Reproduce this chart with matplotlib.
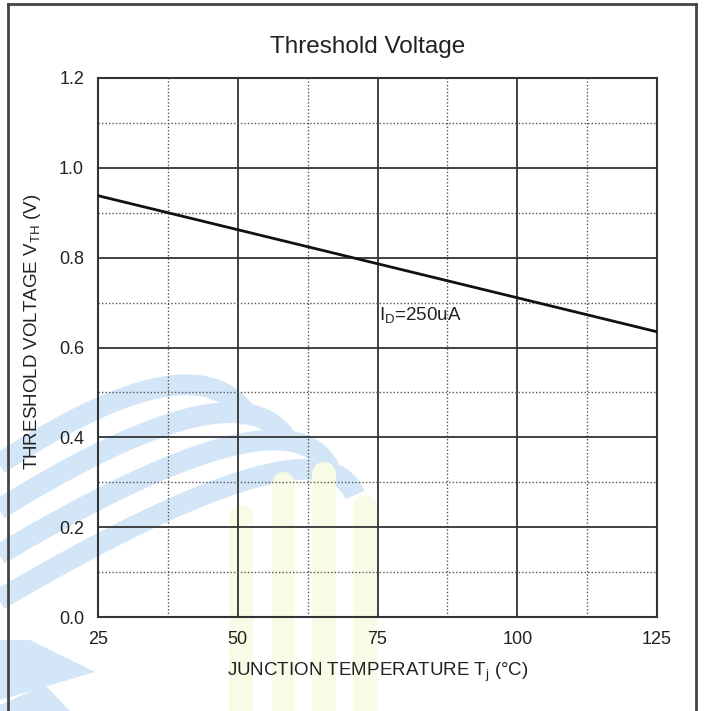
import numpy as np
import matplotlib
matplotlib.use("Agg")
import matplotlib.pyplot as plt
from matplotlib.lines import Line2D
from matplotlib.patches import Polygon

plt.rcParams['font.family'] = ['Liberation Sans', 'DejaVu Sans']
plt.rcParams['mathtext.fontset'] = 'custom'
plt.rcParams['mathtext.rm'] = 'Liberation Sans'
plt.rcParams['mathtext.it'] = 'Liberation Sans'

# data
temp_c = [25, 125]
vth_v = [0.938, 0.635]
x_ticks = [25, 50, 75, 100, 125]
y_ticks = [0.0, 0.2, 0.4, 0.6, 0.8, 1.0, 1.2]

W, H = 704, 711
fig = plt.figure(figsize=(W / 100, H / 100), dpi=100)


def px(x, y):
    # pixel coords (top-left origin) -> figure fraction
    return x / W, 1 - y / H


# faint watermark behind the chart
def band(x0, y0, cx, cy, x1, y1, lw):
    t = np.linspace(0, 1, 60)
    xs = (1 - t) ** 2 * x0 + 2 * (1 - t) * t * cx + t ** 2 * x1
    ys = (1 - t) ** 2 * y0 + 2 * (1 - t) * t * cy + t ** 2 * y1
    fx, fy = zip(*[px(a, b) for a, b in zip(xs, ys)])
    fig.add_artist(Line2D(fx, fy, color='#d3e6f8', lw=lw, solid_capstyle='butt', zorder=0))


band(-10, 470, 200, 330, 250, 420, 15)
band(-10, 515, 245, 355, 290, 445, 15)
band(-10, 560, 290, 380, 330, 470, 15)
band(-10, 605, 320, 410, 355, 495, 15)
for x0, x1, top in [(229, 253, 505), (272, 295, 472), (312, 336, 462), (353, 377, 495)]:
    xs = np.concatenate([[x0], x0 + (x1 - x0) * (0.5 - 0.5 * np.cos(np.linspace(0, np.pi, 20))), [x1]])
    ys = np.concatenate([[711], top + 12 * (1 - np.sin(np.linspace(0, np.pi, 20))), [711]])
    fig.add_artist(Polygon([px(a, b) for a, b in zip(xs, ys)], closed=True,
                           facecolor='#f8fce6', edgecolor='none', zorder=0))
for pts in [[(0, 640), (30, 640), (95, 672), (0, 700)], [(0, 705), (45, 685), (70, 711), (0, 711)]]:
    fig.add_artist(Polygon([px(a, b) for a, b in pts], closed=True,
                           facecolor='#d3e6f8', edgecolor='none', zorder=0))

# outer frame
for xs, ys in [([8, 8], [4, 711]), ([8, 696], [4, 4]), ([696, 696], [4, 711])]:
    fx, fy = zip(*[px(a, b) for a, b in zip(xs, ys)])
    fig.add_artist(Line2D(fx, fy, color='#444444', lw=2, zorder=1))

ax = fig.add_axes([98 / W, 1 - 617 / H, (657 - 98) / W, (617 - 78) / H])
ax.set_facecolor('none')
ax.set_xlim(25, 125)
ax.set_ylim(0, 1.2)
ax.set_xticks(x_ticks)
ax.set_yticks(y_ticks)
ax.set_xticks(np.arange(37.5, 125, 25), minor=True)
ax.set_yticks(np.arange(0.1, 1.2, 0.2), minor=True)
ax.set_yticklabels([f"{v:.1f}" for v in y_ticks])
ax.tick_params(which='both', length=0, labelsize=13, colors='#222222')
ax.tick_params(axis='x', pad=10)
ax.tick_params(axis='y', pad=10)
ax.grid(which='major', color='#333333', lw=1.3)
ax.grid(which='minor', color='#555555', lw=1.0, ls=(0, (1, 1.5)))
for s in ax.spines.values():
    s.set_color('#333333')
    s.set_linewidth(1.5)

ax.plot(temp_c, vth_v, color='#111111', lw=2.0, zorder=3)
ax.text(75.3, 0.662, r"I$_{\mathrm{D}}$=250uA", fontsize=13.5, color='#222222', va='baseline')

fig.text(368 / W, 1 - 47 / H, "Threshold Voltage", fontsize=17.5, color='#222222',
         ha='center', va='center')
ax.set_xlabel(r"JUNCTION TEMPERATURE T$_{\mathrm{j}}$ (°C)", fontsize=13.5, labelpad=9, color='#222222')
ax.set_ylabel(r"THRESHOLD VOLTAGE V$_{\mathrm{TH}}$ (V)", fontsize=13.5, color='#222222')
ax.yaxis.set_label_coords(-0.098, 0.529)

fig.savefig("out.png", dpi=100)
